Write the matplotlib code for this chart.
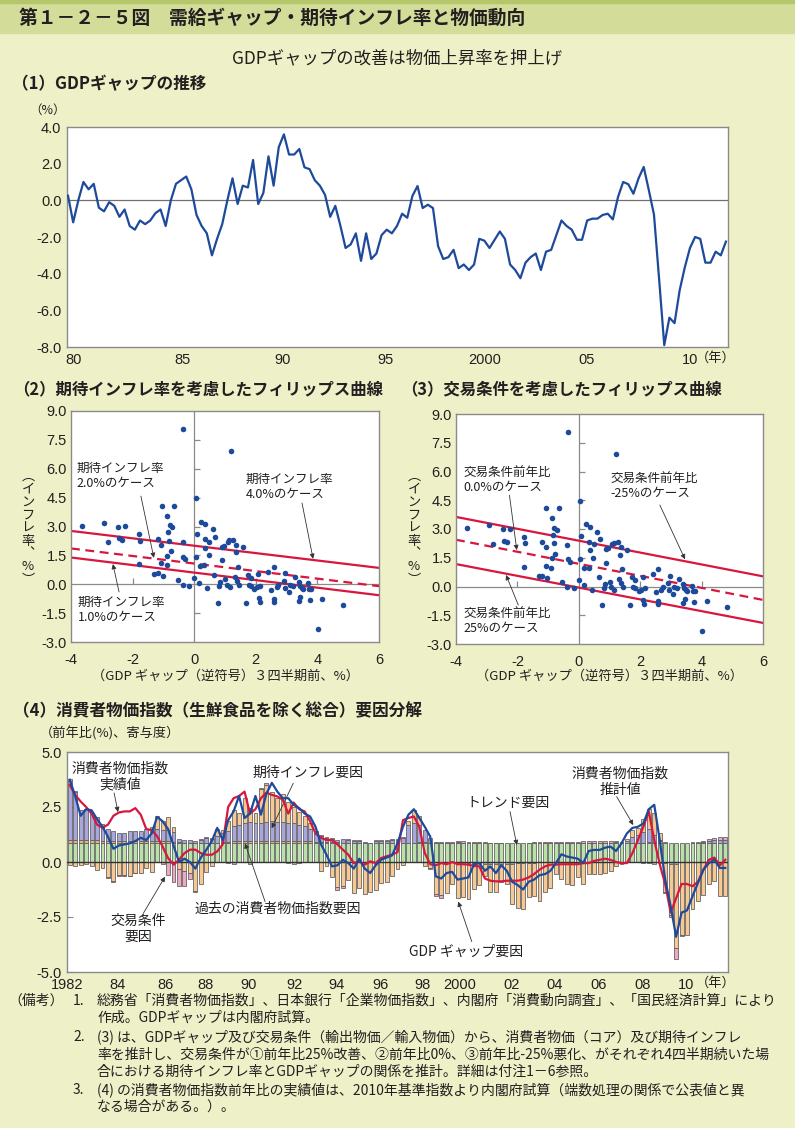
import numpy as np
import matplotlib
matplotlib.use("Agg")
import matplotlib.pyplot as plt
from matplotlib.patches import Rectangle

plt.rcParams['font.family'] = ['Noto Sans CJK JP', 'DejaVu Sans']

# %% data -------------------------------------------------------------------

# (1) GDP gap, quarterly 1980Q1 - 2012Q1 (%)
gdp_gap = [
    0.25, -1.2, 0.0, 1.0,  0.6, 0.9, -0.4, -0.6,  -0.1, -0.3, -0.9, -0.5,
    -1.4, -1.6, -1.1, -1.3,  -1.1, -0.7, -0.5, -1.4,  0.0, 0.9, 1.1, 1.3,
    0.6, -0.8, -1.4, -1.8,  -3.0, -2.1, -1.3, 0.0,  1.2, -0.2, 0.8, 0.7,
    2.2, -0.2, 0.4, 2.4,  0.8, 2.9, 3.6, 2.5,  2.5, 2.8, 1.8, 1.7,
    1.1, 0.8, 0.3, -0.9,  -0.3, -1.4, -2.6, -2.4,  -1.8, -3.3, -1.8, -3.2,
    -2.9, -1.9, -1.6, -1.8,  -1.4, -0.73, -0.95, 0.24,  0.78, -0.42, -0.24, -0.42,
    -2.5, -3.2, -3.1, -2.7,  -3.7, -3.5, -3.8, -3.5,  -2.1, -2.2, -2.6, -2.15,
    -1.7, -2.1, -3.5, -3.8,  -4.25, -3.4, -3.1, -2.9,  -3.8, -2.8, -2.7, -1.9,
    -1.1, -1.4, -1.6, -2.15,  -2.15, -1.1, -1.0, -1.0,  -0.8, -0.73, -1.04, 0.18,
    1.0, 0.88, 0.36, 1.2,  1.82, 0.55, -0.78, -4.3,  -7.9, -6.4, -6.7, -4.9,
    -3.65, -2.6, -2.0, -2.1,  -3.4, -3.4, -2.8, -3.0,  -2.25,
]
gap_xlabels = ['80', '85', '90', '95', '2000', '05', '10']
gap_yticks = [-8.0, -6.0, -4.0, -2.0, 0.0, 2.0, 4.0]

# (2)(3) scatter: GDP gap (reversed sign, 3 quarters earlier) vs core inflation
gap_lag = [
    -3.63, -2.93, -2.81, -2.47, -2.24, -2.44, -2.34, -1.78, -1.75, -1.80,
    -1.19, -1.06, -0.65, -0.87, -0.80, -0.72, -0.85, -0.82, -0.76, -1.07,
    -1.07, -0.87, -0.89, -1.30, -1.19, -1.02, -0.37, -0.36, -0.29, -0.54,
    -0.37, -0.17, -0.35, 0.05, 0.08, 0.05, 0.00, 0.18, 0.17, 0.23,
    0.35, 0.34, 0.35, 0.33, 0.42, 0.48, 0.47, 0.60, 0.68, 0.65,
    0.77, 0.84, 0.89, 0.96, 0.90, 0.82, 1.01, 1.06, 1.09, 1.14,
    1.20, 1.27, 1.37, 1.35, 1.42, 1.16, 1.32, 1.39, 1.45, 1.58,
    1.68, 1.74, 1.83, 1.77, 1.84, 1.95, 2.03, 2.08, 2.10, 2.13,
    2.15, 2.41, 2.50, 2.58, 2.58, 2.58, 2.68, 2.73, 2.92, 2.96,
    2.95, 3.07, 3.11, 3.20, 3.28, 3.40, 3.42, 3.40, 3.49, 3.45,
    3.54, 3.70, 3.73, 3.75, 3.78, 4.01, 4.16, 4.84,
]
inflation = [
    3.03, 3.19, 2.20, 2.98, 3.02, 2.38, 2.31, 2.60, 2.25, 1.04,
    2.34, 4.07, 4.07, 3.55, 3.07, 2.95, 2.69, 2.25, 1.72, 2.06,
    1.08, 1.47, 0.99, 0.54, 0.57, 0.43, 2.17, 1.42, 1.30, 0.24,
    -0.05, -0.09, 8.05, 4.47, 2.62, 1.42, 0.33, 0.97, 0.07, 3.24,
    3.12, 2.34, 1.89, 0.99, -0.19, 2.22, 1.51, 2.86, 2.46, 0.50,
    -0.95, 0.12, 1.94, 1.99, 1.25, -0.09, 0.26, -0.02, 2.20, 2.29,
    6.92, 2.32, 2.06, 1.65, 0.90, -0.16, 0.38, 0.16, -0.02, 1.93,
    -0.95, 0.49, 0.33, -0.05, -0.10, -0.23, -0.16, 0.52, -0.71, -0.92,
    -0.09, 0.66, -0.31, 0.90, -0.78, -0.92, -0.16, -0.02, 0.16, 0.57,
    -0.19, -0.40, -0.02, -0.09, 0.40, 0.12, -0.10, -0.88, -0.17, -0.66,
    -0.23, 0.05, -0.23, -0.83, -0.23, -2.32, -0.78, -1.09,
]
# estimated Phillips curves: value at x=-4 and at x=6 (upper, middle dashed, lower)
p2_at_left = [2.77, 1.86, 1.39]
p2_at_right = [0.85, -0.10, -0.57]
p3_at_left = [3.63, 2.44, 1.17]
p3_at_right = [0.53, -0.70, -1.90]
ph_xticks = [-4, -2, 0, 2, 4, 6]
ph_yticks = [-3.0, -1.5, 0.0, 1.5, 3.0, 4.5, 6.0, 7.5, 9.0]

# (4) CPI decomposition, quarterly 1982Q1 - 2012Q1 (contribution, %pt)
trend_f = [
    0.85, 0.85, 0.85, 0.85,  0.85, 0.85, 0.85, 0.85,  0.85, 0.85, 0.85, 0.85,
    0.85, 0.85, 0.85, 0.85,  0.85, 0.85, 0.85, 0.85,  0.85, 0.85, 0.85, 0.85,
    0.85, 0.85, 0.85, 0.85,  0.85, 0.85, 0.85, 0.85,  0.85, 0.85, 0.85, 0.85,
    0.85, 0.85, 0.85, 0.85,  0.85, 0.85, 0.85, 0.85,  0.85, 0.85, 0.85, 0.85,
    0.85, 0.85, 0.85, 0.85,  0.85, 0.85, 0.85, 0.85,  0.85, 0.85, 0.85, 0.85,
    0.85, 0.85, 0.85, 0.85,  0.85, 0.85, 0.85, 0.85,  0.85, 0.85, 0.85, 0.85,
    0.85, 0.85, 0.85, 0.85,  0.85, 0.85, 0.85, 0.85,  0.85, 0.85, 0.85, 0.85,
    0.85, 0.85, 0.85, 0.85,  0.85, 0.85, 0.85, 0.85,  0.85, 0.85, 0.85, 0.85,
    0.85, 0.85, 0.85, 0.85,  0.85, 0.85, 0.85, 0.85,  0.85, 0.85, 0.85, 0.85,
    0.85, 0.85, 0.85, 0.85,  0.85, 0.85, 0.85, 0.85,  0.85, 0.85, 0.85, 0.85,
    0.85,
]
past_f = [
    0.15, 0.15, 0.15, 0.15,  0.15, 0.15, 0.12, 0.12,  0.12, 0.12, 0.12, 0.12,
    0.12, 0.12, 0.12, 0.12,  0.12, 0.10, 0.10, 0.08,  0.05, 0.03, 0.02, 0.02,
    0.03, 0.03, 0.03, 0.03,  0.05, 0.05, 0.10, 0.12,  0.12, 0.12, 0.12, 0.12,
    0.12, 0.12, 0.12, 0.12,  0.12, 0.12, 0.10, 0.10,  0.10, 0.08, 0.06, 0.05,
    0.05, 0.04, 0.03, 0.03,  0.02, 0.01, 0.01, 0.0,  0.0, 0.0, 0.0, 0.0,
    0.0, 0.0, 0.02, 0.03,  0.05, 0.05, 0.03, 0.0,  0.0, 0.0, 0.0, 0.0,
    0.0, 0.0, 0.0, 0.0,  0.0, 0.0, 0.0, 0.0,  0.0, 0.0, 0.0, 0.0,
    0.0, 0.0, 0.0, 0.0,  0.0, 0.0, 0.0, 0.0,  0.0, 0.0, 0.0, 0.0,
    0.0, 0.0, 0.0, 0.0,  0.0, 0.0, 0.0, 0.0,  0.0, 0.02, 0.05, 0.08,
    0.10, 0.05, 0.0, 0.0,  0.0, 0.0, 0.0, 0.0,  0.0, 0.0, 0.0, 0.0,  0.0,
]
expect_f = [
    2.7, 2.2, 1.35, 1.4,  1.25, 1.05, 0.75, 0.55,  0.42, 0.35, 0.37, 0.42,
    0.45, 0.45, 0.55, 0.6,  0.55, 0.5, 0.5, 0.45,  0.15, 0.1, 0.15, 0.1,
    0.1, 0.2, 0.15, 0.3,  0.4, 0.5, 0.7, 0.7,  0.8, 0.85, 0.8, 0.8,
    0.85, 0.9, 0.85, 0.85,  0.8, 0.8, 0.75, 0.7,  0.55, 0.35, 0.25, 0.2,
    0.15, 0.12, 0.15, 0.12,  0.1, 0.08, 0.0, 0.0,  0.1, 0.1, 0.12, 0.15,
    0.15, 0.25, 0.8, 0.9,  0.8, 0.55, 0.2, 0.05,  0.05, 0.03, 0.03, 0.05,
    0.02, -0.03, -0.05, -0.05,  -0.08, -0.08, -0.08, -0.08,  -0.08, -0.08, -0.06, -0.05,
    -0.05, -0.03, 0.0, 0.02,  0.02, 0.02, 0.02, 0.02,  0.02, 0.02, 0.02, 0.02,
    0.02, 0.02, 0.02, 0.03,  0.05, 0.05, 0.1, 0.3,  0.4, 0.5, 0.6, 0.3,
    0.05, -0.05, -0.1, -0.1,  0.0, 0.0, 0.02, 0.02,  0.05, 0.1, 0.15, 0.15,  0.15,
]
gdp_f = [
    -0.12, -0.2, -0.15, -0.1,  -0.2, -0.35, -0.25, -0.7,  -0.85, -0.6, -0.6, -0.62,
    -0.5, -0.5, -0.27, -0.45,  0.55, 0.4, 0.6, 0.2,  -0.3, -0.4, -0.5, -1.3,
    -1.0, -0.45, -0.2, 0.3,  0.15, 0.45, 0.7, 0.55,  1.15, 0.65, 0.45, 1.55,
    1.7, 1.3, 1.1, 1.25,  0.95, 0.75, 0.55, 0.42,  0.27, 0.1, -0.4, -0.2,
    -0.7, -1.15, -1.1, -0.8,  -1.4, -1.2, -1.45, -1.35,  -1.25, -0.95, -0.9, -0.65,
    -0.3, -0.15, 0.2, 0.6,  0.4, -0.2, -0.25, -1.45,  -1.5, -1.4, -1.0, -1.65,
    -1.6, -1.65, -1.2, -1.0,  -0.55, -1.3, -1.3, -0.85,  -0.9, -1.85, -2.05, -2.1,
    -1.55, -1.5, -1.75, -1.35,  -1.2, -0.55, -0.75, -1.0,  -1.05, -0.7, -1.0, -0.55,
    -0.55, -0.55, -0.5, -0.4,  -0.2, -0.1, 0.1, 0.3,  0.3, 0.6, 0.9, 1.0,
    0.3, -1.3, -2.3, -3.8,  -3.3, -3.3, -2.15, -1.75,  -1.5, -1.0, -0.85, -1.55,  -1.55,
]
tot_f = [
    0.05, 0.03, 0.0, 0.0,  0.0, 0.0, 0.0, -0.03,  -0.05, -0.03, -0.03, -0.03,
    -0.02, 0.0, 0.0, 0.0,  0.0, -0.1, -0.6, -0.9,  -0.8, -0.7, -0.25, -0.05,
    0.05, 0.05, 0.05, 0.0,  0.0, -0.05, -0.1, 0.0,  0.0, -0.1, 0.0, 0.05,
    0.05, 0.0, 0.0, 0.0,  -0.05, -0.1, -0.05, 0.0,  0.0, 0.03, 0.05, 0.05,
    0.05, -0.12, -0.1, 0.05,  0.05, 0.05, 0.03, 0.03,  0.03, 0.05, 0.05, 0.05,
    0.05, 0.03, 0.0, 0.0,  0.0, 0.0, -0.05, -0.1,  -0.12, 0.03, 0.05, 0.05,
    0.08, 0.08, 0.08, 0.06,  0.05, 0.03, 0.03, 0.03,  0.0, 0.0, 0.0, 0.0,
    0.03, 0.05, 0.06, 0.06,  0.05, 0.05, 0.05, 0.05,  0.05, 0.06, 0.08, 0.08,
    0.1, 0.1, 0.1, 0.08,  0.05, 0.03, 0.0, 0.0,  0.0, -0.03, -0.05, -0.08,
    -0.05, -0.05, -0.1, -0.5,  -0.05, 0.0, 0.03, 0.05,  0.05, 0.08, 0.1, 0.15,  0.15,
]
cpi_actual = [
    3.5, 3.05, 2.75, 2.5,  2.2, 1.7, 1.55, 1.7,  2.1, 2.25, 2.3, 2.3,
    2.45, 2.15, 1.5, 1.45,  1.17, 0.7, 0.18, -0.12,  0.1, 0.4, 0.56, 0.56,
    0.4, 0.33, 0.33, 0.48,  0.8, 2.5, 2.9, 3.0,  3.2, 2.2, 2.4, 2.9,
    3.15, 3.05, 2.98, 2.83,  2.2, 2.7, 2.4, 2.3,  1.85, 1.3, 1.1, 1.0,
    1.0, 0.8, 0.56, 0.33,  -0.05, 0.03, -0.12, 0.03,  -0.05, 0.18, 0.26, 0.33,
    0.45, 1.9, 2.0, 2.07,  1.6, 0.4, -0.1, -0.15,  -0.05, -0.1, 0.0, -0.1,
    -0.1, -0.12, -0.18, -0.2,  -0.75, -0.85, -0.88, -0.88,  -0.85, -0.85, -0.85, -0.8,
    -0.7, -0.55, -0.35, -0.2,  -0.12, -0.12, -0.1, -0.1,  -0.1, -0.1, -0.05, -0.05,
    0.05, 0.1, 0.15, 0.1,  0.0, -0.05, -0.05, 0.4,  1.0, 1.6, 2.3, 1.0,
    -0.1, -1.0, -2.3, -1.65,  -1.0, -1.0, -1.1, -0.9,  -0.35, 0.1, 0.2, -0.15,  0.1,
]
cpi_estimate = [
    3.74, 3.0, 2.1, 2.4,  2.35, 1.95, 1.6, 1.15,  0.6, 0.75, 0.8, 0.85,
    0.95, 1.1, 1.0, 1.3,  2.05, 1.85, 1.5, 0.75,  0.0, 0.15, 0.0, -0.3,
    0.2, 0.55, 0.95, 1.55,  1.0, 1.9, 2.3, 3.0,  2.0, 2.2, 3.0, 2.15,
    3.1, 3.6, 3.2, 2.9,  2.9, 2.6, 2.45, 2.2,  2.07, 1.6, 0.8, 0.33,
    -0.2, -0.15, 0.1, -0.05,  -0.3, 0.15, -0.3, -0.5,  -0.15, 0.1, 0.2, 0.3,
    0.85, 1.6, 2.15, 2.4,  2.0, 1.6, 1.15, -0.65,  -0.75, -0.5, -0.45, -0.8,
    -0.75, -0.7, -0.1, -0.05,  -0.4, -0.2, -0.5, -0.15,  -0.4, -0.9, -1.05, -1.25,
    -0.9, -0.8, -0.6, -0.55,  -0.4, -0.05, 0.35, 0.25,  0.2, 0.15, -0.05, 0.5,
    0.55, 0.55, 0.65, 0.7,  0.5, 0.85, 1.3, 1.55,  1.6, 1.75, 2.4, 2.6,
    1.0, -0.8, -2.0, -3.4,  -2.3, -2.2, -1.56, -0.95,  -0.35, -0.05, 0.1, -0.27,  -0.27,
]
cpi_xlabels = ['1982', '84', '86', '88', '90', '92', '94', '96', '98',
               '2000', '02', '04', '06', '08', '10']
cpi_yticks = [-5.0, -2.5, 0.0, 2.5, 5.0]

note_numbers = ['1.', '', '2.', '', '', '3.', '']
note_lines = [
    '総務省「消費者物価指数」、日本銀行「企業物価指数」、内閣府「消費動向調査」、「国民経済計算」により',
    '作成。GDPギャップは内閣府試算。',
    '(3) は、GDPギャップ及び交易条件（輸出物価／輸入物価）から、消費者物価（コア）及び期待インフレ',
    '率を推計し、交易条件が①前年比25%改善、②前年比0%、③前年比-25%悪化、がそれぞれ4四半期続いた場',
    '合における期待インフレ率とGDPギャップの関係を推計。詳細は付注1－6参照。',
    '(4) の消費者物価指数前年比の実績値は、2010年基準指数より内閣府試算（端数処理の関係で公表値と異',
    'なる場合がある。）。',
]

# %% style ------------------------------------------------------------------

W, H = 795, 1128
BG = '#EEF0C8'
BAND = '#D4DC9A'
STRIPE = '#B4C76A'
TXT = '#231F20'
GRAY = '#8A8A8A'
BLUE = '#1D4A9A'
RED = '#D8173F'
GREEN = '#B9E1A8'
TAN = '#E6B47A'
PURPLE = '#A8A6DD'
ORANGE = '#F7C891'
PINK = '#EDA8C4'
EDGE = '#5A5A5A'
NUM = 'Liberation Sans'


def box(l, t, r, b):
    return [l / W, 1 - b / H, (r - l) / W, (b - t) / H]


def label(x, y, s, **kw):
    kw.setdefault('color', TXT)
    fig.text(x / W, 1 - y / H, s, **kw)


def frame(ax):
    for sp in ax.spines.values():
        sp.set_color(GRAY)
        sp.set_linewidth(1.0)


def arrow(ax, start, end):
    ax.annotate('', xy=end, xytext=start,
                arrowprops=dict(arrowstyle='-|>', color='#333333', lw=0.6,
                                mutation_scale=7, shrinkA=0, shrinkB=0))


fig = plt.figure(figsize=(W / 100, H / 100), dpi=100, facecolor=BG)
fig.patches.append(Rectangle((0, 1 - 33 / H), 1, 33 / H, transform=fig.transFigure,
                             color=BAND, zorder=0))
fig.patches.append(Rectangle((0, 1 - 3 / H), 1, 3 / H, transform=fig.transFigure,
                             color=STRIPE, zorder=0))

label(19, 18, '第１－２－５図　需給ギャップ・期待インフレ率と物価動向',
      fontsize=13.5, fontweight='bold', va='center')
label(397, 58, 'GDPギャップの改善は物価上昇率を押上げ', fontsize=12.5,
      ha='center', va='center')

# %% (1) GDP gap -----------------------------------------------------------

label(12, 84, '（1）GDPギャップの推移', fontsize=12, fontweight='bold', va='center')
label(48, 110, '（%）', fontsize=9, ha='center', va='center')

ax1 = fig.add_axes(box(67, 127, 728, 347))
t_gap = 1980 + np.arange(len(gdp_gap)) / 4
ax1.plot(t_gap, gdp_gap, color=BLUE, lw=1.6, zorder=3)
ax1.axhline(0, color='#707070', lw=0.9, zorder=2)
ax1.set_xlim(1979.95, 2012.1)
ax1.set_ylim(-8, 4)
ax1.set_yticks(gap_yticks)
ax1.set_yticklabels([f'{v:.1f}' for v in gap_yticks], fontfamily=NUM)
ax1.set_xticks([1980.25, 1985.55, 1990.45, 1995.45, 2000.25, 2005.2, 2010.25])
ax1.set_xticklabels(gap_xlabels, fontfamily=NUM)
ax1.tick_params(length=0, labelsize=10.5, labelcolor=TXT)
ax1.tick_params(axis='x', pad=4)
ax1.tick_params(axis='y', pad=4)
frame(ax1)
label(716, 358, '（年）', fontsize=9.5, ha='center', va='center')


# %% (2)(3) Phillips curves ---------------------------------------------------

def phillips(rect, at_left, at_right, ylabel_x, xlabel_x):
    ax = fig.add_axes(rect)
    ax.set_xlim(-4, 6)
    ax.set_ylim(-3, 9)
    ax.axvline(0, color=GRAY, lw=0.9, zorder=1)
    ax.axhline(0, color=GRAY, lw=0.9, zorder=1)
    inner_y = [v for v in ph_yticks if v not in (0.0, -3.0, 9.0)]
    inner_x = [v for v in ph_xticks if v not in (0, -4, 6)]
    ax.plot(np.zeros(len(inner_y)), inner_y, ls='none', marker=1, ms=4,
            mew=0.9, color=GRAY, zorder=1)
    ax.plot(inner_x, np.zeros(len(inner_x)), ls='none', marker=2, ms=4,
            mew=0.9, color=GRAY, zorder=1)
    for yl, yr, ls in zip(at_left, at_right, ['-', (0, (4, 2.5)), '-']):
        ax.plot([-4, 6], [yl, yr], color=RED, lw=1.6, ls=ls, zorder=2)
    ax.scatter(gap_lag, inflation, s=16, color=BLUE, linewidths=0, zorder=3)
    ax.set_xticks(ph_xticks)
    ax.set_xticklabels([str(v) for v in ph_xticks], fontfamily=NUM)
    ax.set_yticks(ph_yticks)
    ax.set_yticklabels([f'{v:.1f}' for v in ph_yticks], fontfamily=NUM)
    ax.tick_params(length=0, labelsize=10.5, labelcolor=TXT)
    ax.tick_params(axis='x', pad=8)
    ax.tick_params(axis='y', pad=3)
    frame(ax)
    label(ylabel_x, 528, '︵\nイ\nン\nフ\nレ\n率\n︑\n%\n︶', fontsize=9.5,
          ha='center', va='center', multialignment='center', linespacing=1.0)
    label(xlabel_x, 676, '（GDP ギャップ（逆符号）３四半期前、%）', fontsize=9.5,
          ha='center', va='center')
    return ax


label(13, 389, '（2）期待インフレ率を考慮したフィリップス曲線', fontsize=11.8,
      fontweight='bold', va='center')
ax2 = phillips(box(71, 411, 379, 642), p2_at_left, p2_at_right, 28, 225)
ann = dict(fontsize=9, va='top', ha='left', linespacing=1.15, color=TXT)
ax2.text(-3.81, 6.35, '期待インフレ率\n2.0%のケース', **ann)
ax2.text(1.68, 5.78, '期待インフレ率\n4.0%のケース', **ann)
ax2.text(-3.78, -0.61, '期待インフレ率\n1.0%のケース', **ann)
arrow(ax2, (-1.73, 4.58), (-1.31, 1.37))
arrow(ax2, (3.50, 4.22), (3.86, 1.32))
arrow(ax2, (-2.44, -0.40), (-2.64, 1.05))

label(401, 389, '（3）交易条件を考慮したフィリップス曲線', fontsize=11.8,
      fontweight='bold', va='center')
ax3 = phillips(box(456, 414, 763, 644), p3_at_left, p3_at_right, 414, 609)
ax3.text(-3.76, 6.29, '交易条件前年比\n0.0%のケース', **ann)
ax3.text(1.02, 5.97, '交易条件前年比\n-25%のケース', **ann)
ax3.text(-3.76, -1.07, '交易条件前年比\n25%のケース', **ann)
arrow(ax3, (-2.26, 4.77), (-2.02, 1.90))
arrow(ax3, (2.64, 4.25), (3.46, 1.42))
arrow(ax3, (-1.97, -0.97), (-2.37, 0.60))

# %% (4) CPI decomposition ---------------------------------------------------

label(13, 711, '（4）消費者物価指数（生鮮食品を除く総合）要因分解', fontsize=12,
      fontweight='bold', va='center')
label(40, 734, '（前年比(%)、寄与度）', fontsize=9.5, va='center')

ax4 = fig.add_axes(box(67, 752, 728, 972))
tq = 1982 + np.arange(len(cpi_actual)) / 4
pos_base = np.zeros(len(tq))
neg_base = np.zeros(len(tq))
for vals, col in [(trend_f, GREEN), (past_f, TAN), (expect_f, PURPLE),
                  (gdp_f, ORANGE), (tot_f, PINK)]:
    v = np.array(vals)
    up = v > 0
    dn = v < 0
    ax4.bar(tq[up], v[up], bottom=pos_base[up], width=0.18, color=col,
            edgecolor=EDGE, lw=0.55, zorder=2)
    ax4.bar(tq[dn], v[dn], bottom=neg_base[dn], width=0.18, color=col,
            edgecolor=EDGE, lw=0.55, zorder=2)
    pos_base[up] += v[up]
    neg_base[dn] += v[dn]
ax4.axhline(0, color='#333333', lw=1.0, zorder=3)
ax4.plot(tq, cpi_actual, color=RED, lw=1.6, zorder=4)
ax4.plot(tq, cpi_estimate, color=BLUE, lw=1.6, zorder=5)
ax4.set_xlim(1981.875, 2012.125)
ax4.set_ylim(-5, 5)
ax4.set_yticks(cpi_yticks)
ax4.set_yticklabels([f'{v:.1f}' for v in cpi_yticks], fontfamily=NUM)
ax4.set_xticks([1981.9, 1984.2, 1986.4, 1988.2, 1990.2, 1992.3, 1994.2, 1996.2,
                1998.15, 1999.85, 2002.2, 2004.2, 2006.2, 2008.2, 2010.2])
ax4.set_xticklabels(cpi_xlabels, fontfamily=NUM)
ax4.tick_params(axis='x', length=0, pad=4)
ax4.tick_params(axis='y', direction='in', length=4, width=0.8, color=GRAY, pad=4)
ax4.tick_params(labelsize=10.5, labelcolor=TXT)
frame(ax4)
label(716, 983, '（年）', fontsize=9.5, ha='center', va='center')

ann4 = dict(fontsize=10, linespacing=1.15, color=TXT, zorder=6)
ax4.text(1984.30, 4.55, '消費者物価指数\n実績値', ha='center', va='top',
         multialignment='center', **ann4)
ax4.text(1990.34, 4.05, '期待インフレ要因', ha='left', va='center', **ann4)
ax4.text(1987.73, -2.10, '過去の消費者物価指数要因', ha='left', va='center', **ann4)
ax4.text(1985.14, -2.36, '交易条件\n要因', ha='center', va='top',
         multialignment='center', **ann4)
ax4.text(2000.14, 2.70, 'トレンド要因', ha='left', va='center', **ann4)
ax4.text(1997.54, -4.08, 'GDP ギャップ要因', ha='left', va='center', **ann4)
ax4.text(2007.18, 4.32, '消費者物価指数\n推計値', ha='center', va='top',
         multialignment='center', **ann4)
arrow(ax4, (1984.03, 3.14), (1984.21, 2.27))
arrow(ax4, (1992.23, 3.58), (1991.24, 1.53))
arrow(ax4, (1990.94, -1.80), (1990.02, 0.85))
arrow(ax4, (1985.37, -2.33), (1986.36, -0.67))
arrow(ax4, (2002.15, 2.29), (2002.46, 0.77))
arrow(ax4, (2000.40, -3.62), (1999.78, -1.80))
arrow(ax4, (2007.03, 2.97), (2007.79, 1.68))

# %% notes ------------------------------------------------------------------

label(8, 1001, '（備考）', fontsize=10, va='center')
for num, line, y in zip(note_numbers, note_lines,
                        [1001, 1018, 1037, 1055, 1072, 1090, 1107]):
    if num:
        label(73, y, num, fontsize=10, va='center')
    label(97, y, line, fontsize=10, va='center')

fig.savefig('out.png', dpi=100, facecolor=BG)
